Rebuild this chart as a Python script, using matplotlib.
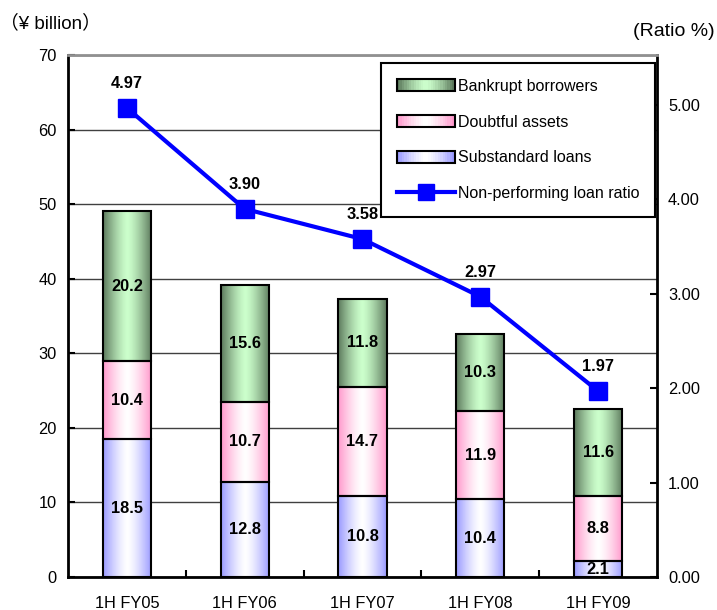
import numpy as np
import matplotlib
matplotlib.use("Agg")
import matplotlib.pyplot as plt
from matplotlib.colors import to_rgb
from matplotlib.legend_handler import HandlerBase
from matplotlib.patches import Rectangle
from matplotlib.lines import Line2D

plt.rcParams['font.family'] = ['Liberation Sans', 'Noto Sans CJK JP', 'DejaVu Sans']

# data
periods = ["1H FY05", "1H FY06", "1H FY07", "1H FY08", "1H FY09"]
substandard = [18.5, 12.8, 10.8, 10.4, 2.1]
doubtful = [10.4, 10.7, 14.7, 11.9, 8.8]
bankrupt = [20.2, 15.6, 11.8, 10.3, 11.6]
npl_ratio = [4.97, 3.90, 3.58, 2.97, 1.97]

series = [
    ("Substandard loans", substandard, "#9a9aff", "#ffffff"),
    ("Doubtful assets", doubtful, "#ff99cc", "#ffffff"),
    ("Bankrupt borrowers", bankrupt, "#5d7a5d", "#ccffcc"),
]


def gradient(edge, center, n=64):
    e = np.array(to_rgb(edge))
    c = np.array(to_rgb(center))
    t = np.abs(np.linspace(-1, 1, n)) ** 1.4
    return (c[None, :] * (1 - t[:, None]) + e[None, :] * t[:, None])


class GradientHandler(HandlerBase):
    def __init__(self, edge, center):
        super().__init__()
        self.cols = gradient(edge, center, 24)

    def create_artists(self, legend, orig_handle, xdescent, ydescent,
                       width, height, fontsize, trans):
        arts = []
        n = len(self.cols)
        for i, col in enumerate(self.cols):
            arts.append(Rectangle((-xdescent + width * i / n, -ydescent),
                                  width / n + 0.2, height, facecolor=col,
                                  edgecolor='none', transform=trans))
        arts.append(Rectangle((-xdescent, -ydescent), width, height,
                              facecolor='none', edgecolor='black', lw=1.5,
                              transform=trans))
        return arts


fig = plt.figure(figsize=(7.17, 6.10), dpi=100)
ax = fig.add_axes([0.0948, 0.0541, 0.8215, 0.8557])
ax2 = ax.twinx()

x = np.arange(len(periods))
bottom = np.zeros(len(periods))
handles = {}
for name, vals, edge, center in series:
    bars = ax.bar(x, vals, 0.41, bottom=bottom, facecolor='none',
                  edgecolor='black', lw=1.5, zorder=3)
    img = gradient(edge, center)[None, :, :]
    for b, v in zip(bars, vals):
        x0, y0 = b.get_x(), b.get_y()
        ax.imshow(img, extent=(x0, x0 + b.get_width(), y0, y0 + b.get_height()),
                  aspect='auto', zorder=2, interpolation='bilinear')
        ax.text(x0 + b.get_width() / 2, y0 + b.get_height() / 2, f"{v:.1f}",
                ha='center', va='center', fontsize=11.8, fontweight='bold',
                zorder=4)
    bottom += np.array(vals)
    handles[name] = (Rectangle((0, 0), 1, 1), GradientHandler(edge, center))

ax.set_xlim(-0.5, len(periods) - 0.5)
ax.set_ylim(0, 70)
ax.set_yticks(range(0, 71, 10))
ax.set_xticks(x)
ax.set_xticklabels(periods, fontsize=11.8)
ax.set_xticks(np.arange(0.5, len(periods) - 1, 1), minor=True)
ax.tick_params(axis='x', which='major', length=0, pad=14)
ax.tick_params(axis='x', which='minor', direction='in', length=5, width=1.5)
ax.tick_params(axis='y', direction='in', length=5, width=1.5, labelsize=11.8,
               pad=8)
ax.set_axisbelow(True)
ax.yaxis.grid(True, color='#404040', lw=1)
for s in ['left', 'bottom', 'right']:
    ax.spines[s].set_linewidth(2)
ax.spines['top'].set_color('#909090')
ax.spines['top'].set_linewidth(2)

ax2.plot(x, npl_ratio, color='#0000ff', lw=3, marker='s', markersize=12.5,
         zorder=5, label="Non-performing loan ratio")
for xi, r in zip(x, npl_ratio):
    ax2.annotate(f"{r:.2f}", (xi, r), xytext=(0, 17.5), textcoords='offset points',
                 ha='center', va='center', fontsize=11.8, fontweight='bold')
ax2.set_ylim(0, 5.53)
ax2.set_yticks(np.arange(0, 5.01, 1.0))
ax2.set_yticklabels([f"{v:.2f}" for v in np.arange(0, 5.01, 1.0)])
ax2.tick_params(axis='y', direction='in', length=5, width=1.5, labelsize=11.8,
                pad=8)
for s in ax2.spines.values():
    s.set_visible(False)

order = ["Bankrupt borrowers", "Doubtful assets", "Substandard loans"]
leg_handles = [handles[n][0] for n in order]
line_handle = Line2D([], [], color='#0000ff', lw=3, marker='s', markersize=11)
hmap = {handles[n][0]: handles[n][1] for n in order}
leg = ax2.legend(leg_handles + [line_handle], order + ["Non-performing loan ratio"],
                 handler_map=hmap, loc='upper right',
                 bbox_to_anchor=(0.997, 0.985), fontsize=11.5, frameon=True,
                 fancybox=False, edgecolor='black', framealpha=1,
                 handlelength=3.6, handleheight=0.8, handletextpad=0.2,
                 labelspacing=1.3, borderpad=1.0, borderaxespad=0)
leg.get_frame().set_linewidth(1.5)

fig.text(0 / 717, 1 - 23 / 610, "（¥ billion）", fontsize=13.5, ha='left',
         va='center')
fig.text(715 / 717, 1 - 31 / 610, "(Ratio %)", fontsize=14, ha='right',
         va='center')

fig.savefig("out.png", dpi=100)
